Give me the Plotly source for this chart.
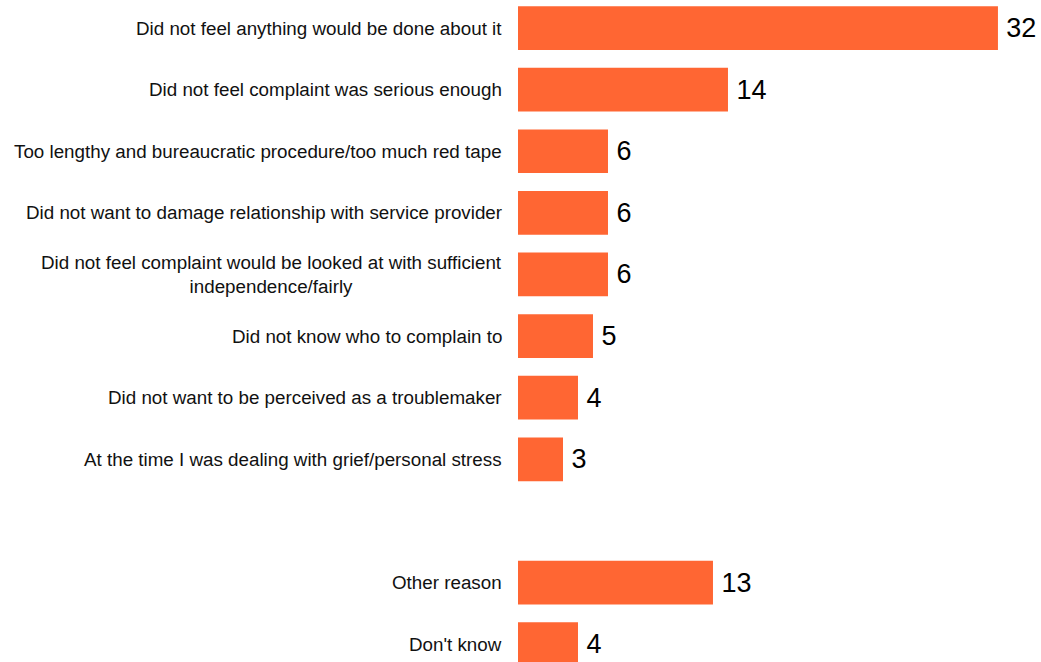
import plotly.graph_objects as go

categories = [
    "Did not feel anything would be done about it",
    "Did not feel complaint was serious enough",
    "Too lengthy and bureaucratic procedure/too much red tape",
    "Did not want to damage relationship with service provider",
    "Did not feel complaint would be looked at with sufficient<br>independence/fairly",
    "Did not know who to complain to",
    "Did not want to be perceived as a troublemaker",
    "At the time I was dealing with grief/personal stress",
    " ",
    "Other reason",
    "Don't know",
]
values = [32, 14, 6, 6, 6, 5, 4, 3, None, 13, 4]
labels = ["" if v is None else str(v) for v in values]

BAR_COLOR = "#FF6633"
FONT = "Liberation Sans, Arial, sans-serif"

fig = go.Figure(
    go.Bar(
        x=values,
        y=categories,
        orientation="h",
        marker=dict(color=BAR_COLOR, line=dict(width=0)),
        text=labels,
        texttemplate="\u2009%{text}",
        textposition="outside",
        textfont=dict(family=FONT, size=27, color="#000000"),
        cliponaxis=False,
        hoverinfo="skip",
    )
)

for c in categories:
    if c.strip():
        fig.add_annotation(
            x=0, xref="paper", xanchor="right", xshift=-14,
            y=c, yref="y", yanchor="middle",
            text=c, showarrow=False, align="center",
            font=dict(family=FONT, size=18.8, color="#111111"),
        )

fig.update_layout(
    width=1041, height=662,
    margin=dict(l=518, r=0, t=0, b=0),
    paper_bgcolor="white", plot_bgcolor="white",
    bargap=0.29,
    showlegend=False,
    xaxis=dict(range=[0, 34.87], visible=False, fixedrange=True),
    yaxis=dict(
        type="category", categoryorder="array", categoryarray=categories,
        range=[10.29, -0.455], showticklabels=False, showgrid=False,
        zeroline=False, showline=False, ticks="",
    ),
)

fig.write_html("out.html")
